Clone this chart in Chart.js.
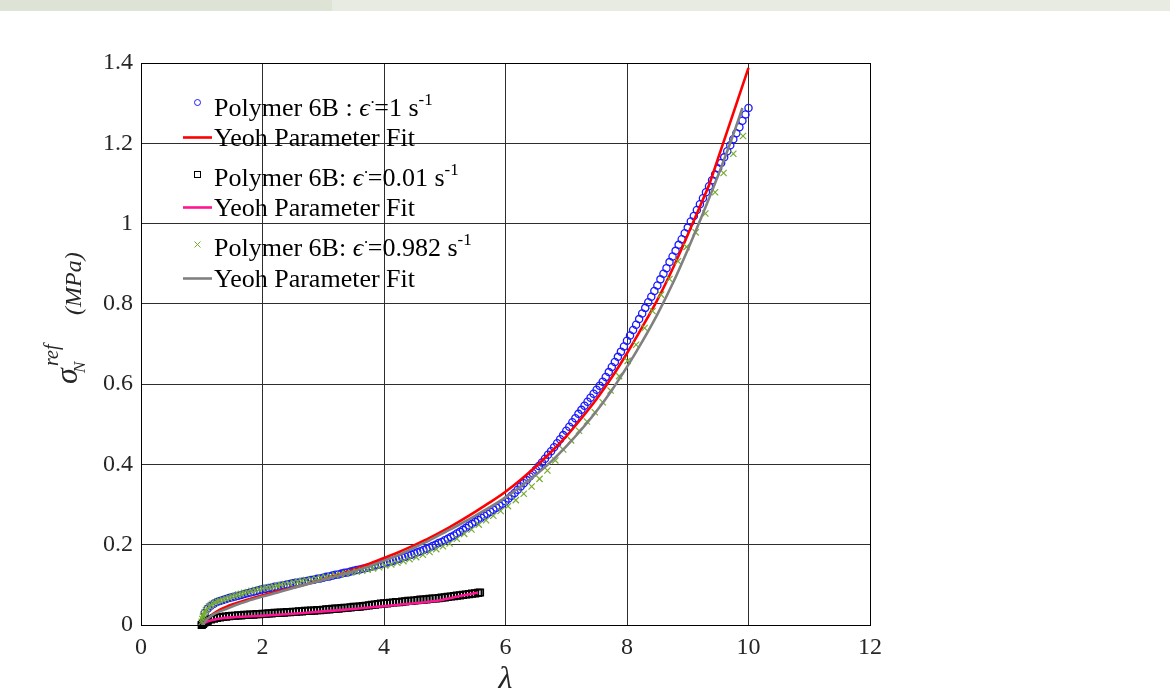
<!DOCTYPE html>
<html>
<head>
<meta charset="utf-8">
<title>Polymer 6B – Yeoh fits</title>
<script src="https://cdn.jsdelivr.net/npm/chart.js@4.4.1/dist/chart.umd.min.js"></script>
<style>
  html, body { margin: 0; padding: 0; background: #fff; }
  #wrap { position: relative; width: 1170px; height: 700px; overflow: hidden; }
  #bandL { position: absolute; left: 0; top: 0; width: 332px; height: 11px; background: #dde3d5; }
  #bandR { position: absolute; left: 332px; top: 0; width: 838px; height: 11px; background: #e8ebe1; }
  canvas { position: absolute; left: 0; top: 0; }
</style>
</head>
<body>
<div id="wrap">
  <canvas id="chart" width="1170" height="700"></canvas>
  <div id="bandL"></div>
  <div id="bandR"></div>
</div>
<script>
/* Nominal stress vs stretch for Polymer 6B at three strain rates,
 * test data as markers, Yeoh model fits as lines.
 */

const SERIF = '"Liberation Serif", "Times New Roman", "DejaVu Serif", serif';

// ---- test data: rate 1 s^-1 (circles) ----
const rate1Lambda = [
  1, 1.05, 1.1, 1.15, 1.2, 1.25, 1.3, 1.35, 1.4, 1.45, 1.5, 1.55, 1.6, 1.65, 1.7, 1.75, 1.8, 1.85, 1.9, 1.95,
  2, 2.05, 2.1, 2.15, 2.2, 2.25, 2.3, 2.35, 2.4, 2.45, 2.5, 2.55, 2.6, 2.65, 2.7, 2.75, 2.8, 2.85, 2.9, 2.95,
  3, 3.05, 3.1, 3.15, 3.2, 3.25, 3.3, 3.35, 3.4, 3.45, 3.5, 3.55, 3.6, 3.65, 3.7, 3.75, 3.8, 3.85, 3.9, 3.95,
  4, 4.05, 4.1, 4.15, 4.2, 4.25, 4.3, 4.35, 4.4, 4.45, 4.5, 4.55, 4.6, 4.65, 4.7, 4.75, 4.8, 4.85, 4.9, 4.95,
  5, 5.05, 5.1, 5.15, 5.2, 5.25, 5.3, 5.35, 5.4, 5.45, 5.5, 5.55, 5.6, 5.65, 5.7, 5.75, 5.8, 5.85, 5.9, 5.95,
  6, 6.05, 6.1, 6.15, 6.2, 6.25, 6.3, 6.35, 6.4, 6.45, 6.5, 6.55, 6.6, 6.65, 6.7, 6.75, 6.8, 6.85, 6.9, 6.95,
  7, 7.05, 7.1, 7.15, 7.2, 7.25, 7.3, 7.35, 7.4, 7.45, 7.5, 7.55, 7.6, 7.65, 7.7, 7.75, 7.8, 7.85, 7.9, 7.95,
  8, 8.05, 8.1, 8.15, 8.2, 8.25, 8.3, 8.35, 8.4, 8.45, 8.5, 8.55, 8.6, 8.65, 8.7, 8.75, 8.8, 8.85, 8.9, 8.95,
  9, 9.05, 9.1, 9.15, 9.2, 9.25, 9.3, 9.35, 9.4, 9.45, 9.5, 9.55, 9.6, 9.65, 9.7, 9.75, 9.8, 9.85, 9.9, 9.95,
  10
];
const rate1Stress = [
  0.004, 0.030, 0.041, 0.048, 0.053, 0.057, 0.060, 0.062, 0.065, 0.067, 0.069, 0.071, 0.073, 0.075, 0.077, 0.079, 0.081, 0.083, 0.085, 0.087,
  0.089, 0.090, 0.092, 0.093, 0.095, 0.096, 0.098, 0.099, 0.101, 0.102, 0.104, 0.105, 0.106, 0.108, 0.109, 0.110, 0.112, 0.113, 0.115, 0.116,
  0.118, 0.120, 0.121, 0.123, 0.125, 0.126, 0.128, 0.130, 0.131, 0.133, 0.135, 0.137, 0.138, 0.140, 0.142, 0.144, 0.146, 0.148, 0.150, 0.152,
  0.154, 0.156, 0.158, 0.160, 0.163, 0.165, 0.168, 0.170, 0.173, 0.175, 0.178, 0.181, 0.184, 0.187, 0.190, 0.193, 0.197, 0.200, 0.204, 0.207,
  0.211, 0.215, 0.219, 0.223, 0.228, 0.232, 0.237, 0.242, 0.248, 0.252, 0.257, 0.262, 0.267, 0.272, 0.277, 0.282, 0.287, 0.292, 0.297, 0.302,
  0.308, 0.315, 0.322, 0.329, 0.337, 0.345, 0.353, 0.361, 0.370, 0.378, 0.387, 0.396, 0.405, 0.414, 0.424, 0.433, 0.443, 0.453, 0.463, 0.473,
  0.484, 0.494, 0.505, 0.515, 0.526, 0.536, 0.546, 0.556, 0.566, 0.576, 0.586, 0.596, 0.606, 0.618, 0.630, 0.643, 0.655, 0.668, 0.681, 0.694,
  0.708, 0.721, 0.735, 0.748, 0.762, 0.776, 0.790, 0.804, 0.818, 0.832, 0.846, 0.861, 0.875, 0.889, 0.904, 0.918, 0.932, 0.947, 0.961, 0.976,
  0.990, 1.005, 1.019, 1.034, 1.048, 1.063, 1.078, 1.093, 1.108, 1.122, 1.137, 1.151, 1.165, 1.180, 1.195, 1.210, 1.225, 1.240, 1.256, 1.272,
  1.288
];

// ---- Yeoh fit for 1 s^-1 ----
const fit1Lambda = [1, 1.05, 1.1, 1.2, 1.3, 1.4, 1.5, 1.75, 2, 2.25, 2.5, 2.75, 3, 3.25, 3.5, 3.75, 4, 4.25, 4.5, 4.75,
  5, 5.25, 5.5, 5.75, 6, 6.25, 6.5, 6.75, 7, 7.25, 7.5, 7.75, 8, 8.25, 8.5, 8.75, 9, 9.25, 9.36, 9.5, 9.75, 10];
const fit1Stress = [0, 0.009, 0.017, 0.029, 0.038, 0.045, 0.051, 0.063, 0.074, 0.084, 0.093, 0.103, 0.114, 0.126, 0.138, 0.152, 0.167, 0.182, 0.199, 0.217,
  0.237, 0.259, 0.282, 0.306, 0.332, 0.362, 0.395, 0.431, 0.470, 0.515, 0.563, 0.617, 0.677, 0.742, 0.810, 0.887, 0.972, 1.060, 1.100, 1.163, 1.275, 1.388];

// ---- test data: rate 0.01 s^-1 (squares) ----
const rate001Lambda = [
  1, 1.02, 1.04, 1.06, 1.08, 1.1, 1.15, 1.2, 1.25, 1.3, 1.35, 1.4, 1.45, 1.5, 1.55, 1.6, 1.65, 1.7, 1.75, 1.8, 1.85, 1.9, 1.95,
  2, 2.05, 2.1, 2.15, 2.2, 2.25, 2.3, 2.35, 2.4, 2.45, 2.5, 2.55, 2.6, 2.65, 2.7, 2.75, 2.8, 2.85, 2.9, 2.95,
  3, 3.05, 3.1, 3.15, 3.2, 3.25, 3.3, 3.35, 3.4, 3.45, 3.5, 3.55, 3.6, 3.65, 3.7, 3.75, 3.8, 3.85, 3.9, 3.95,
  4, 4.05, 4.1, 4.15, 4.2, 4.25, 4.3, 4.35, 4.4, 4.45, 4.5, 4.55, 4.6, 4.65, 4.7, 4.75, 4.8, 4.85, 4.9, 4.95,
  5, 5.05, 5.1, 5.15, 5.2, 5.25, 5.3, 5.35, 5.4, 5.45, 5.5, 5.55, 5.58
];
const rate001Stress = [
  0, 0.003, 0.006, 0.008, 0.010, 0.011, 0.014, 0.016, 0.018, 0.019, 0.020, 0.021, 0.022, 0.023, 0.023, 0.024, 0.024, 0.025, 0.025, 0.026, 0.026, 0.027, 0.027,
  0.028, 0.028, 0.029, 0.029, 0.030, 0.030, 0.031, 0.031, 0.032, 0.032, 0.033, 0.033, 0.034, 0.034, 0.035, 0.035, 0.036, 0.036, 0.037, 0.037,
  0.038, 0.039, 0.039, 0.040, 0.041, 0.041, 0.042, 0.043, 0.043, 0.044, 0.045, 0.045, 0.046, 0.047, 0.048, 0.049, 0.050, 0.051, 0.052, 0.053,
  0.054, 0.054, 0.055, 0.056, 0.057, 0.057, 0.058, 0.059, 0.060, 0.060, 0.061, 0.062, 0.063, 0.063, 0.064, 0.065, 0.066, 0.066, 0.067, 0.068,
  0.069, 0.070, 0.071, 0.072, 0.073, 0.074, 0.075, 0.076, 0.077, 0.078, 0.079, 0.080, 0.081
];

// ---- Yeoh fit for 0.01 s^-1 ----
const fit001Lambda = [1, 1.05, 1.1, 1.2, 1.3, 1.5, 1.75, 2, 2.5, 3, 3.28, 3.5, 4, 4.5, 4.9, 5, 5.25, 5.55];
const fit001Stress = [0, 0.005, 0.009, 0.013, 0.016, 0.019, 0.021, 0.023, 0.028, 0.034, 0.037, 0.040, 0.047, 0.054, 0.061, 0.064, 0.072, 0.081];

// ---- test data: rate 0.982 s^-1 (crosses) ----
const rate0982Lambda = [
  1, 1.01, 1.02, 1.03, 1.05, 1.07, 1.09, 1.12, 1.15, 1.18, 1.22, 1.26, 1.3, 1.35, 1.4, 1.45, 1.5, 1.55, 1.6, 1.65,
  1.7, 1.76, 1.82, 1.88, 1.94, 2, 2.06, 2.12, 2.18, 2.24, 2.3, 2.37, 2.44, 2.51, 2.58, 2.65, 2.72, 2.8, 2.88, 2.96,
  3.04, 3.12, 3.2, 3.28, 3.37, 3.46, 3.55, 3.64, 3.73, 3.82, 3.92, 4.02, 4.12, 4.22, 4.32, 4.42, 4.53, 4.64, 4.75, 4.86,
  4.97, 5.08, 5.2, 5.32, 5.44, 5.56, 5.68, 5.8, 5.92, 6.04, 6.17, 6.3, 6.43, 6.56, 6.69, 6.82, 6.95, 7.08, 7.21, 7.34,
  7.47, 7.6, 7.73, 7.87, 8.01, 8.15, 8.29, 8.42, 8.56, 8.7, 8.84, 8.98, 9.13, 9.29, 9.45, 9.59, 9.75, 9.91
];
const rate0982Stress = [
  0.008, 0.015, 0.021, 0.026, 0.032, 0.037, 0.041, 0.046, 0.050, 0.053, 0.056, 0.059, 0.061, 0.063, 0.066, 0.068, 0.071, 0.073, 0.076, 0.078,
  0.080, 0.082, 0.085, 0.087, 0.089, 0.091, 0.093, 0.094, 0.096, 0.098, 0.100, 0.102, 0.104, 0.106, 0.108, 0.110, 0.112, 0.114, 0.116, 0.118,
  0.120, 0.122, 0.124, 0.126, 0.128, 0.131, 0.133, 0.135, 0.138, 0.141, 0.144, 0.148, 0.151, 0.155, 0.159, 0.164, 0.169, 0.175, 0.182, 0.189,
  0.196, 0.203, 0.215, 0.227, 0.238, 0.250, 0.261, 0.272, 0.284, 0.296, 0.311, 0.327, 0.345, 0.364, 0.385, 0.410, 0.437, 0.460, 0.484, 0.507,
  0.530, 0.555, 0.584, 0.620, 0.658, 0.698, 0.740, 0.782, 0.823, 0.862, 0.906, 0.942, 0.978, 1.025, 1.078, 1.126, 1.174, 1.218
];

// ---- Yeoh fit for 0.982 s^-1 ----
const fit0982Lambda = [1, 1.05, 1.1, 1.2, 1.35, 1.5, 1.65, 1.8, 2, 2.25, 2.5, 2.75, 3, 3.25, 3.5, 3.75, 4, 4.25, 4.5, 4.75,
  5, 5.25, 5.5, 5.75, 6, 6.25, 6.5, 6.75, 7, 7.25, 7.5, 7.75, 8, 8.25, 8.5, 8.75, 9, 9.25, 9.5, 9.75, 9.9];
const fit0982Stress = [0, 0.008, 0.016, 0.027, 0.037, 0.046, 0.055, 0.062, 0.071, 0.081, 0.092, 0.102, 0.112, 0.123, 0.134, 0.146, 0.160, 0.175, 0.193, 0.211,
  0.231, 0.251, 0.272, 0.294, 0.318, 0.345, 0.374, 0.407, 0.445, 0.487, 0.533, 0.585, 0.643, 0.706, 0.774, 0.850, 0.935, 1.025, 1.120, 1.222, 1.288];

// legend entries, top to bottom (rate value goes after the epsilon-dot)
const legendRates = ["1", "0.01", "0.982"];
const legendPrefix = ["Polymer 6B : ", "Polymer 6B: ", "Polymer 6B: "];
const fitLabel = "Yeoh Parameter Fit";

const zip = (xs, ys) => xs.map((x, i) => ({ x, y: ys[i] }));

const COL = {
  blue: "#1a1aff", red: "#ff0000", black: "#000000",
  pink: "#ff1493", green: "#77ac30", grey: "#808080"
};

/* ---------- helpers for mixed-font text ---------- */
function drawParts(ctx, x, y, parts) {
  let cx = x;
  for (const p of parts) {
    ctx.font = p.font;
    ctx.fillText(p.t, cx, y + (p.dy || 0));
    cx += ctx.measureText(p.t).width + (p.gap || 0);
  }
}

function rateParts(i) {
  const norm = "26px " + SERIF, ital = "italic 26px " + SERIF, sup = "17px " + SERIF;
  return [
    { t: legendPrefix[i], font: norm },
    { t: "ϵ", font: ital },
    { t: "·", font: sup, dy: -8, gap: -1 },
    { t: "=" + legendRates[i] + " s", font: norm },
    { t: "-1", font: sup, dy: -11 }
  ];
}

/* ---------- legend, box and y title (drawn on the canvas) ---------- */
const decorPlugin = {
  id: "decor",
  afterDatasetsDraw(chart) {
    const ctx = chart.ctx;
    const a = chart.chartArea;
    ctx.save();

    // axes box
    ctx.strokeStyle = "#000";
    ctx.lineWidth = 1;
    ctx.strokeRect(Math.round(a.left) + 0.5, Math.round(a.top) + 0.5,
                   Math.round(a.right - a.left), Math.round(a.bottom - a.top));

    // legend (no frame, sits inside the axes)
    const markX = 197.5, lineX0 = 183, lineX1 = 212, textX = 214;
    const markY = [102.5, 174.5, 244.5];
    const lineY = [137.5, 207.5, 278.5];
    const rateBase = [115.5, 185.5, 255.5];
    const fitBase = [146, 216, 287];
    const fitCols = [COL.red, COL.pink, COL.grey];

    ctx.lineWidth = 1;
    // circle
    ctx.strokeStyle = COL.blue;
    ctx.beginPath(); ctx.arc(markX, markY[0], 3, 0, Math.PI * 2); ctx.stroke();
    // square
    ctx.strokeStyle = COL.black;
    ctx.strokeRect(markX - 3, markY[1] - 3, 6, 6);
    // cross
    ctx.strokeStyle = COL.green;
    ctx.beginPath();
    ctx.moveTo(markX - 3, markY[2] - 3); ctx.lineTo(markX + 3, markY[2] + 3);
    ctx.moveTo(markX + 3, markY[2] - 3); ctx.lineTo(markX - 3, markY[2] + 3);
    ctx.stroke();

    ctx.lineWidth = 2.6;
    for (let i = 0; i < 3; i++) {
      ctx.strokeStyle = fitCols[i];
      ctx.beginPath(); ctx.moveTo(lineX0, lineY[i]); ctx.lineTo(lineX1, lineY[i]); ctx.stroke();
    }

    ctx.fillStyle = "#000";
    ctx.textAlign = "left";
    ctx.textBaseline = "alphabetic";
    for (let i = 0; i < 3; i++) {
      drawParts(ctx, textX, rateBase[i], rateParts(i));
      ctx.font = "26px " + SERIF;
      ctx.fillText(fitLabel, textX, fitBase[i]);
    }

    // y title: sigma_N^ref (MPa), reading bottom to top
    const rot = (t, font, sx, sy) => {
      ctx.save();
      ctx.translate(sx, sy);
      ctx.rotate(-Math.PI / 2);
      ctx.font = font;
      ctx.fillText(t, 0, 0);
      ctx.restore();
    };
    ctx.fillStyle = "#262626";
    rot("σ", "italic 32px " + SERIF, 77, 384);
    rot("N", "italic 17px " + SERIF, 85, 373);
    rot("ref", "italic 20px " + SERIF, 58, 366);
    rot("(MPa)", "italic 24px " + SERIF, 81, 315);

    ctx.restore();
  }
};

const tickFont = { family: SERIF, size: 24 };

new Chart(document.getElementById("chart"), {
  type: "scatter",
  data: {
    datasets: [
      { label: "rate 1", data: zip(rate1Lambda, rate1Stress), order: 6,
        pointStyle: "circle", pointRadius: 3.6, pointBorderWidth: 1.3,
        pointBorderColor: COL.blue, pointBackgroundColor: "rgba(0,0,0,0)", showLine: false, clip: 6 },
      { label: "fit 1", data: zip(fit1Lambda, fit1Stress), order: 5,
        showLine: true, borderColor: COL.red, borderWidth: 2.6, pointRadius: 0,
        cubicInterpolationMode: "monotone", clip: 6 },
      { label: "rate 0.01", data: zip(rate001Lambda, rate001Stress), order: 4,
        pointStyle: "rect", pointRadius: 4.6, pointBorderWidth: 1.7,
        pointBorderColor: COL.black, pointBackgroundColor: "rgba(0,0,0,0)", showLine: false, clip: 6 },
      { label: "fit 0.01", data: zip(fit001Lambda, fit001Stress), order: 3,
        showLine: true, borderColor: COL.pink, borderWidth: 2.6, pointRadius: 0,
        cubicInterpolationMode: "monotone", clip: 6 },
      { label: "rate 0.982", data: zip(rate0982Lambda, rate0982Stress), order: 2,
        pointStyle: "crossRot", pointRadius: 4.4, pointBorderWidth: 1.2,
        pointBorderColor: COL.green, pointBackgroundColor: COL.green, showLine: false, clip: 6 },
      { label: "fit 0.982", data: zip(fit0982Lambda, fit0982Stress), order: 1,
        showLine: true, borderColor: COL.grey, borderWidth: 2.6, pointRadius: 0,
        cubicInterpolationMode: "monotone", clip: 6 }
    ]
  },
  options: {
    responsive: false,
    animation: false,
    events: [],
    layout: { padding: { top: 63, right: 300, left: 0, bottom: 0 } },
    plugins: { legend: { display: false }, tooltip: { enabled: false } },
    scales: {
      x: {
        type: "linear", min: 0, max: 12,
        ticks: { stepSize: 2, font: tickFont, color: "#262626", padding: 8, maxRotation: 0 },
        grid: { color: "#2e2e2e", lineWidth: 1, drawTicks: false },
        border: { display: false },
        title: { display: true, text: "λ", color: "#262626",
                 font: { family: SERIF, size: 32, style: "italic" }, padding: { top: 0, bottom: 1 } },
        afterFit(s) { s.height = 75; }
      },
      y: {
        type: "linear", min: 0, max: 1.4,
        ticks: { stepSize: 0.2, font: tickFont, color: "#262626", padding: 8,
                 callback: v => String(Math.round(v * 10) / 10) },
        grid: { color: "#2e2e2e", lineWidth: 1, drawTicks: false },
        border: { display: false },
        afterFit(s) { s.width = 141; }
      }
    }
  },
  plugins: [decorPlugin]
});
</script>
</body>
</html>
